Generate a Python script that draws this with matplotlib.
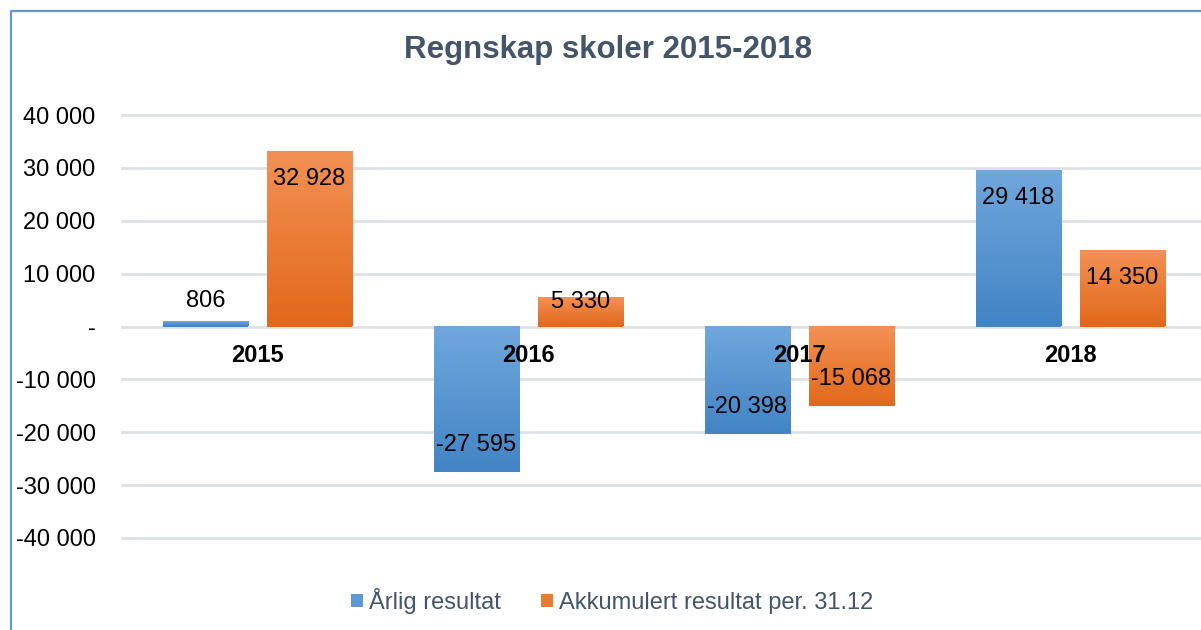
import numpy as np
import matplotlib
matplotlib.use("Agg")
import matplotlib.pyplot as plt
from matplotlib.patches import Patch
from matplotlib.lines import Line2D
from matplotlib.colors import LinearSegmentedColormap

plt.rcParams['font.family'] = ['Liberation Sans', 'DejaVu Sans']

# ---- data ----
categories = ["2015", "2016", "2017", "2018"]
arlig = [806, -27595, -20398, 29418]
akkumulert = [32928, 5330, -15068, 14350]
series_names = ["Årlig resultat", "Akkumulert resultat per. 31.12"]
y_ticks = [40000, 30000, 20000, 10000, 0, -10000, -20000, -30000, -40000]
y_tick_labels = ["40 000", "30 000", "20 000", "10 000", "-",
                 "-10 000", "-20 000", "-30 000", "-40 000"]
title = "Regnskap skoler 2015-2018"

W, H = 1201, 630
fig = plt.figure(figsize=(W / 100, H / 100), dpi=100)
ax = fig.add_axes([122 / W, (H - 538) / H, (1206 - 122) / W, (538 - 115) / H])

blue_top, blue_bot = "#70A7DD", "#4284C4"
orng_top, orng_bot = "#F39155", "#E2681A"

x = np.arange(len(categories))
bw = 0.314
off = 0.192

def fmt(v):
    s = f"{abs(v):,}".replace(",", " ")
    return ("-" if v < 0 else "") + s

def grad_bars(bars, ctop, cbot):
    cmap = LinearSegmentedColormap.from_list("g", [ctop, cbot])
    grad = np.linspace(0, 1, 256).reshape(-1, 1)
    for b in bars:
        x0, y0 = b.get_x(), b.get_y()
        w, h = b.get_width(), b.get_height()
        ylo, yhi = min(y0, y0 + h), max(y0, y0 + h)
        ax.imshow(grad, cmap=cmap, extent=[x0, x0 + w, ylo, yhi],
                  aspect='auto', origin='upper', zorder=3, interpolation='bilinear')

b1 = ax.bar(x - off, arlig, bw, color=blue_bot, zorder=2)
b2 = ax.bar(x + off, akkumulert, bw, color=orng_bot, zorder=2)
grad_bars(b1, blue_top, blue_bot)
grad_bars(b2, orng_top, orng_bot)

ax.set_xlim(-0.5, len(categories) - 0.5)
ax.set_ylim(-40000, 40000)
ax.set_yticks(y_ticks)
ax.set_yticklabels(y_tick_labels, fontsize=17, color="black")
ax.tick_params(axis='y', length=0, pad=19)
ax.set_xticks([])
for s in ax.spines.values():
    s.set_visible(False)
ax.grid(axis='y', color="#DDE1E7", linewidth=2, zorder=0)
ax.set_axisbelow(True)
for gl in ax.get_ygridlines():
    gl.set_clip_on(False)

# data labels
px_per_unit = (538 - 115) / 80000.0
for xs, vals in ((x - off, arlig), (x + off, akkumulert)):
    for xi, v in zip(xs, vals):
        hpx = abs(v) * px_per_unit
        sgn = 1 if v >= 0 else -1
        if hpx > 50:
            dy = -27 * sgn
        elif hpx > 20:
            dy = -4 * sgn
        else:
            dy = 21 * sgn
        ax.annotate(fmt(v), (xi, v), xytext=(0, dy), textcoords='offset pixels',
                    ha='center', va='center', fontsize=17, color="black", zorder=5)

# category labels
for xi, c in zip(x, categories):
    ax.annotate(c, (xi, 0), xytext=(0, -29), textcoords='offset pixels',
                ha='center', va='center', fontsize=17, fontweight='bold',
                color="black", zorder=5)

fig.text(608 / W, 1 - 50 / H, title, ha='center', va='center', fontsize=22.5,
         fontweight='bold', color="#44546A")

handles = [Patch(facecolor="#5C98D4", edgecolor='none'),
           Patch(facecolor="#EC7A30", edgecolor='none')]
leg = fig.legend(handles, series_names, loc='center', bbox_to_anchor=(612 / W, 1 - 601 / H),
                 ncol=2, frameon=False, fontsize=17, handlelength=0.5, handleheight=0.5,
                 handletextpad=0.25, columnspacing=1.7, labelcolor="#44546A")

# border (left and top)
fig.add_artist(Line2D([10.5 / W, 10.5 / W, 1.0], [-0.01, 1 - 10.5 / H, 1 - 10.5 / H],
                      transform=fig.transFigure, color="#6A96CF", linewidth=1.6))

fig.savefig("out.png", dpi=100, facecolor="white")
